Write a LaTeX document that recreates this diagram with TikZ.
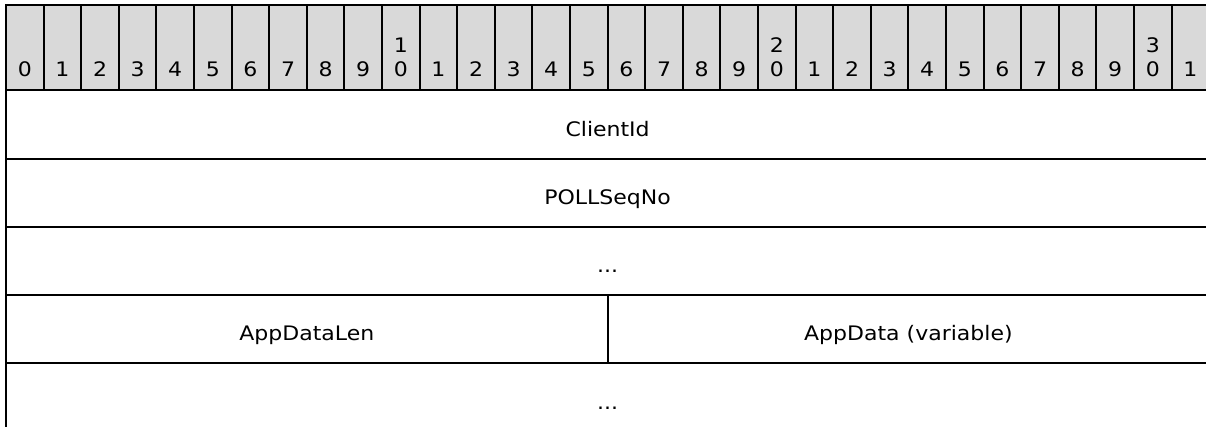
\documentclass[tikz,border=0pt]{standalone}
\usepackage{fontspec}
\setmainfont{DejaVu Sans}[FakeStretch=1.1]
\usetikzlibrary{positioning}

\tikzset{
	bit/.style={font=\fontsize{15}{18}\selectfont, anchor=base, inner sep=0pt},
	field/.style={font=\fontsize{15}{18}\selectfont, anchor=base, inner sep=0pt},
	rule/.style={line width=1.5pt}
}

\begin{document}
\begin{tikzpicture}[x=0.75pt,y=-0.75pt]
	\path[use as bounding box, clip] (0,0) rectangle (1206,427);
	\def\cw{37.6}
	% header row
	\foreach \i in {0,...,31} {
		\filldraw[rule, fill=black!15] ({6+\i*\cw},5) rectangle ({6+(\i+1)*\cw},90);
		\pgfmathtruncatemacro\d{mod(\i,10)}
		\pgfmathtruncatemacro\t{\i/10}
		\node[bit] (bit\i) at ({6+(\i+0.5)*\cw},77) {\d};
		\ifnum\d=0 \ifnum\i>0
			\node[bit] (ten\i) at ({6+(\i+0.5)*\cw},53) {\t};
		\fi\fi
	}
	% fields
	\draw[rule] (6,90) -- (6,431);
	\draw[rule] (1209,90) -- (1209,431);
	\foreach \y in {159,227,295,363}
		\draw[rule] (6,\y) -- (1209,\y);
	\draw[rule] (607.6,295) -- (607.6,363);
	\node[field] (clientid) at (607.6,137) {ClientId};
	\node[field] (pollseqno) at (607.6,205) {POLLSeqNo};
	\node[field] (more1) at (607.6,273) {...};
	\node[field] (appdatalen) at (306.8,341) {AppDataLen};
	\node[field] (appdata) at (908.4,341) {AppData (variable)};
	\node[field] (more2) at (607.6,409) {...};
\end{tikzpicture}
\end{document}
